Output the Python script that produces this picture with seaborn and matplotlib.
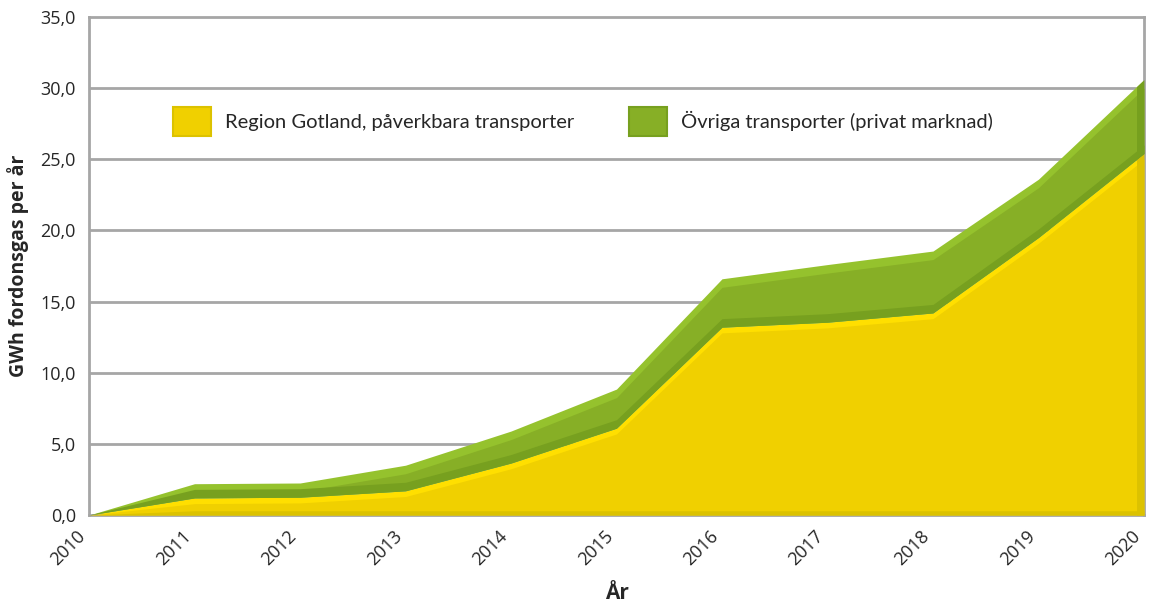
import numpy as np
import matplotlib
matplotlib.use('Agg')
from matplotlib import pyplot as plt
from matplotlib.patches import Patch
from matplotlib.ticker import FuncFormatter
import seaborn as sns

years = [2010, 2011, 2012, 2013, 2014, 2015, 2016, 2017, 2018, 2019, 2020]
region = [0.0, 1.2, 1.25, 1.7, 3.65, 6.1, 13.2, 13.55, 14.2, 19.5, 25.4]
ovriga = [0.0, 1.0, 1.0, 1.8, 2.25, 2.75, 3.4, 4.05, 4.35, 4.1, 5.2]
labels = ['Region Gotland, påverkbara transporter', 'Övriga transporter (privat marknad)']

sns.set_style('white')
plt.rcParams['font.family'] = ['Open Sans', 'DejaVu Sans']

x = np.array(years, dtype=float)
y1 = np.array(region)
y2 = y1 + np.array(ovriga)

fig = plt.figure(figsize=(11.52, 6.02), dpi=100)
ax = fig.add_axes([0.0773, 0.1445, 0.9157, 0.8273])

for v in range(5, 35, 5):
    ax.axhline(v, color='#a6a6a6', lw=2, zorder=0)

# yellow series with bevel look
ax.fill_between(x, 0, y1, color='#ffdf00', lw=0, zorder=2)
ax.fill_between(x, 0, np.maximum(y1 - 0.4, 0), color='#f0d000', lw=0, zorder=3)
ax.fill_between(x, 0, np.minimum(0.3, y1), color='#dcc200', lw=0, zorder=4)

# green series with bevel look
ax.fill_between(x, y1, y2, color='#95c22d', lw=0, zorder=2)
ax.fill_between(x, y1, np.maximum(y2 - 0.6, y1), color='#87af26', lw=0, zorder=3)
ax.fill_between(x, y1, np.minimum(y1 + 0.6, y2), color='#77a01f', lw=0, zorder=4)

# darker right side face
xe = np.array([years[-1] - 0.07, years[-1]])
ax.fill_between(xe, 0, np.interp(xe, x, y1), color='#dcc200', lw=0, zorder=5)
ax.fill_between(xe, np.interp(xe, x, y1), np.interp(xe, x, y2), color='#76a01e', lw=0, zorder=5)

ax.set_xlim(2010, 2020)
ax.set_ylim(0, 35)
ax.set_xticks(years)
ax.set_xticklabels([str(y) for y in years], rotation=45, ha='right', va='top', fontsize=13)
ax.set_yticks(range(0, 36, 5))
ax.yaxis.set_major_formatter(FuncFormatter(lambda v, p: f'{v:.1f}'.replace('.', ',')))
ax.tick_params(axis='y', labelsize=13, pad=6)
ax.tick_params(axis='x', pad=5)

for s in ax.spines.values():
    s.set_color('#a6a6a6')
    s.set_linewidth(2)

ax.set_xlabel('År', fontsize=15, fontweight='bold', labelpad=10)
ax.set_ylabel('GWh fordonsgas per år', fontsize=14, fontweight='bold', labelpad=8)

handles = [Patch(facecolor='#f0d000', edgecolor='#dcc200', lw=1.5),
           Patch(facecolor='#87af26', edgecolor='#77a01f', lw=1.5)]
ax.legend(handles, labels, ncol=2, frameon=False, prop={'family': 'Lato', 'size': 14.5},
          loc='center left', bbox_to_anchor=(0.062, 0.79),
          handlelength=1.9, handleheight=1.9, handletextpad=0.7, columnspacing=2.7)

fig.savefig('out.png', dpi=100)
